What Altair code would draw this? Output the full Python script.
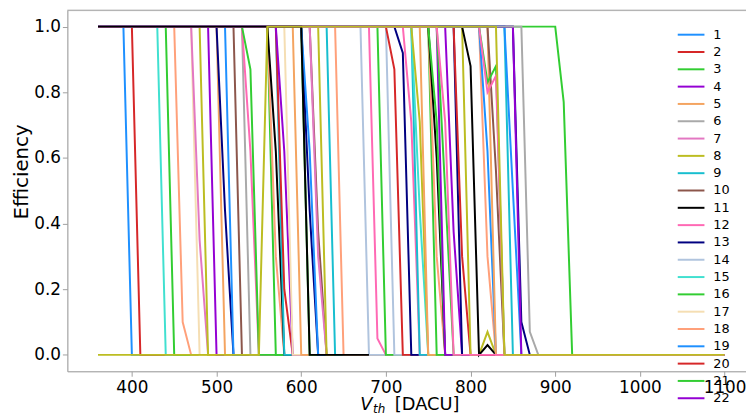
import altair as alt
import pandas as pd

# ---- data ----
x_scan_start = 360
x_scan_end = 1100
x_step = 10

# legend colour cycle (series 1..18, then repeats)
palette = ["#1E90FF", "#D62728", "#32CD32", "#9400D3", "#F4A460", "#A9A9A9",
           "#E377C2", "#BCBD22", "#17BECF", "#8C564B", "#000000", "#FF69B4",
           "#000080", "#B0C4DE", "#40E0D0", "#32CD32", "#F5DEB3", "#FFA07A"]

# series in drawing order
series_id = [75, 1, 2, 15, 3, 18, 17, 7, 8, 4, 5, 13, 19, 10, 6, 12, 16,
             21, 36, 29, 9, 38, 22, 35, 23, 39, 31, 37, 28, 25, 26, 27, 54,
             14, 30, 34, 32, 20, 49, 48, 45, 33, 44, 41, 52, 72, 47, 57, 40,
             70, 58, 67, 56, 80, 65, 90, 55, 77, 46, 93, 84, 63, 73, 85, 76,
             24, 66, 11, 62]
# first x at efficiency 1.0 (before it: 0)
rise_x = [360] * 68 + [560]
# last x at efficiency 1.0
fall_x = [900, 390, 400, 430, 440, 450, 470, 470, 480, 490, 500, 500, 510, 520, 530, 530, 530,
          560, 560, 560, 570, 570, 570, 580, 590, 600, 600, 600, 610, 610, 620, 630, 640,
          670, 680, 690, 700, 700, 710, 720, 730, 730, 730, 740, 750, 750, 750, 750, 760,
          760, 770, 780, 780, 790, 790, 810, 810, 820, 820, 810, 810, 840, 840, 850, 850,
          860, 760, 600, 830]
# values after the last 1.0 point (then 0)
tail = [[0.77], [0], [0], [0], [0], [0.1], [0], [0.35], [0], [0], [0], [0.44], [0], [0], [0], [0.62], [0.87],
        [0], [0.3], [0.62], [0], [0.2], [0.62], [0], [0], [0], [0.44], [0.62], [0.375], [0.3], [0], [0], [0],
        [0], [0.05], [0], [0], [0.87], [0.92], [0.71], [0], [0.44], [0.71], [0], [0], [0.3], [0.6], [0.71], [0],
        [0.5], [0.375], [0], [0.3], [0, 0, 0.07], [0.88, 0, 0.03], [0.3], [0.62], [0], [0.56], [0.83, 0.88], [0.8, 0.85], [0], [0.5], [0.1], [0],
        [0.07], [0.71], [0], [0]]
# last scanned x
end_x = [1100] * 67 + [680, 1100]

x_ticks = [400, 500, 600, 700, 800, 900, 1000, 1100]
y_ticks = [0.0, 0.2, 0.4, 0.6, 0.8, 1.0]
legend_ids = list(range(1, 23))

# ---- build table ----
rows = []
for k, sid in enumerate(series_id):
    x = x_scan_start
    while x <= end_x[k]:
        if x < rise_x[k]:
            y = 0.0
        elif x <= fall_x[k]:
            y = 1.0
        else:
            i = (x - fall_x[k]) // x_step - 1
            y = tail[k][i] if i < len(tail[k]) else 0.0
        rows.append({"key": f"s{k:02d}", "sid": sid, "x": x, "y": y,
                     "col": palette[(sid - 1) % len(palette)]})
        x += x_step
df = pd.DataFrame(rows)

leg = pd.DataFrame({"sid": legend_ids,
                    "label": [str(i) for i in legend_ids],
                    "col": [palette[(i - 1) % len(palette)] for i in legend_ids]})

W, H = 686, 365
FONT = "DejaVu Sans"
SPINE = "#A0A0A0"

lines = alt.Chart(df).mark_line(strokeWidth=2).encode(
    x=alt.X("x:Q", scale=alt.Scale(domain=[323.8, 1125.3], nice=False, zero=False),
            axis=alt.Axis(values=x_ticks, format="d", title=None, grid=False,
                          labelFontSize=17, labelFont=FONT, labelColor="#000000",
                          tickSize=5, tickColor=SPINE, domainColor=SPINE, labelPadding=3)),
    y=alt.Y("y:Q", scale=alt.Scale(domain=[-0.05, 1.05], nice=False, zero=False),
            axis=alt.Axis(values=y_ticks, format=".1f", title="Efficiency", grid=False,
                          labelFontSize=17, labelFont=FONT, labelColor="#000000",
                          tickSize=5, tickColor=SPINE, domainColor=SPINE, labelPadding=2,
                          titleFontSize=20, titleFont=FONT, titleFontWeight="normal",
                          titleColor="#000000", titleX=-40, titleY=163,
                          titleBaseline="alphabetic", titleAlign="center")),
    color=alt.Color("col:N", scale=None),
    detail="key:N",
)

top_frame = alt.Chart(pd.DataFrame({"a": [0]})).mark_rule(color=SPINE, strokeWidth=1).encode(
    x=alt.value(0), x2=alt.value(W), y=alt.value(0))

leg_y = alt.Y("sid:O", scale=alt.Scale(type="point", domain=legend_ids, range=[16, 401]), axis=None)
leg_rule = alt.Chart(leg).mark_rule(strokeWidth=2).encode(
    y=leg_y, x=alt.value(617), x2=alt.value(644), color=alt.Color("col:N", scale=None))
leg_text = alt.Chart(leg).mark_text(align="left", baseline="middle", fontSize=13, font=FONT,
                                    color="#000000").encode(
    y=leg_y, x=alt.value(653), text="label:N")

xt_v = alt.Chart(pd.DataFrame({"t": ["V"]})).mark_text(
    align="left", baseline="alphabetic", fontSize=18, font=FONT, fontStyle="italic",
    color="#000000").encode(x=alt.value(296), y=alt.value(404), text="t:N")
xt_sub = alt.Chart(pd.DataFrame({"t": ["th"]})).mark_text(
    align="left", baseline="alphabetic", fontSize=12, font=FONT, fontStyle="italic",
    color="#000000").encode(x=alt.value(309), y=alt.value(407), text="t:N")
xt_unit = alt.Chart(pd.DataFrame({"t": ["[DACU]"]})).mark_text(
    align="left", baseline="alphabetic", fontSize=18, font=FONT,
    color="#000000").encode(x=alt.value(331), y=alt.value(404), text="t:N")

chart = alt.layer(lines, top_frame, leg_rule, leg_text, xt_v, xt_sub, xt_unit).resolve_scale(
    y="independent"
).properties(
    width=W, height=H,
    padding={"left": 60, "top": 0, "right": 0, "bottom": 46},
    autosize=alt.AutoSizeParams(type="none"),
).configure_view(stroke=None).configure(font=FONT)

chart.save("out.html", embed_options={"renderer": "svg", "actions": False})
